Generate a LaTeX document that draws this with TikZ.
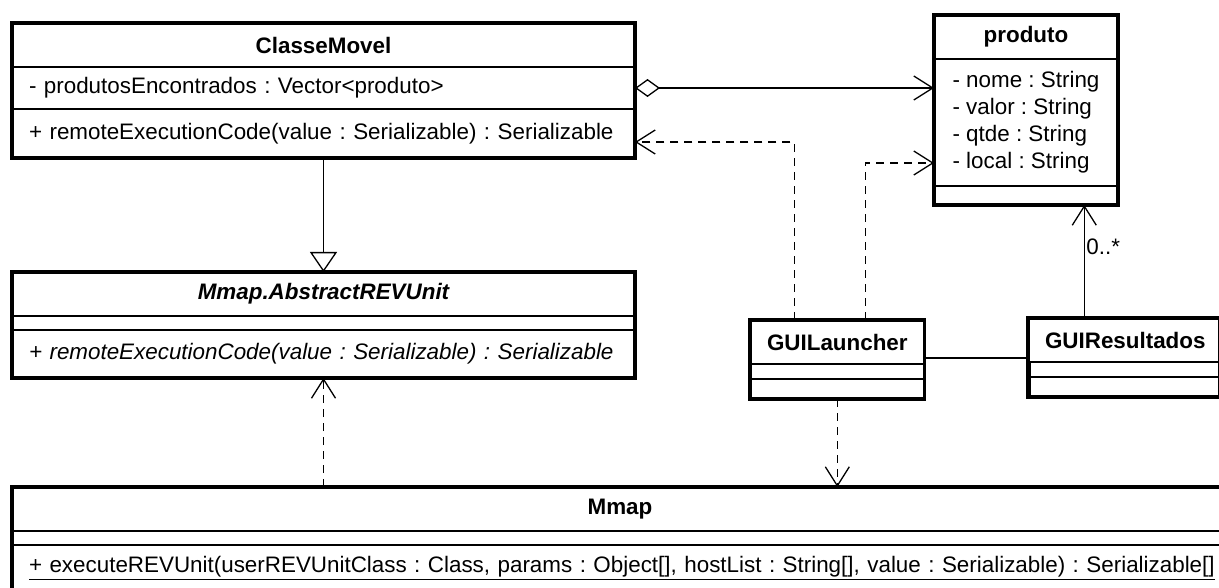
\documentclass[tikz,border=0pt]{standalone}
\usepackage{fontspec}
\setmainfont{Liberation Sans}
\usetikzlibrary{arrows.meta,positioning}
\newcommand{\tamanho}{\fontsize{22.4pt}{27pt}\selectfont\frenchspacing\hyphenpenalty=10000 }

\begin{document}
\begin{tikzpicture}[x=1pt,y=-1pt,
  node distance=0pt,
  classe/.style={
  % The shape:
  rectangle,
  % The border:
  draw, line width=1.4pt, outer sep=0pt,
  inner xsep=17pt, inner ysep=0pt,
  % Font
  font=\tamanho\bfseries
  },
  secao/.style={
  % The shape:
  rectangle,
  % The border:
  draw, line width=1.4pt, outer sep=0pt,
  inner xsep=17pt, inner ysep=0pt,
  align=left,
  % Font
  font=\tamanho
  },
  moldura/.style={line width=3.6pt},
  ligacao/.style={line width=1.3pt},
  navega/.style={-{Straight Barb[length=19pt,width=24pt]}},
  dependencia/.style={dash pattern=on 8pt off 6pt,-{Straight Barb[length=19pt,width=24pt]}},
  agrega/.style={{Diamond[open,length=25pt,width=18pt]}-{Straight Barb[length=19pt,width=24pt]}},
  heranca/.style={-{Triangle[open,length=20pt,width=27pt]}}
  ]
  \useasboundingbox (0,0) rectangle (1219,588);

  \node (cmT) [classe,anchor=north west,minimum width=623pt,minimum height=44pt] at (12,23) {ClasseMovel};
  \node (cmA) [secao,below=of cmT,text width=589pt,minimum height=42pt] {- produtosEncontrados : Vector<produto>};
  \node (cmM) [secao,below=of cmA,text width=589pt,minimum height=49pt] {+ remoteExecutionCode(value : Serializable) : Serializable};

  \node (prT) [classe,anchor=north west,minimum width=184pt,minimum height=44pt] at (934,15) {produto};
  \node (prA) [secao,below=of prT,minimum width=184pt,minimum height=127pt] {- nome : String\\- valor : String\\- qtde : String\\- local : String};
  \node (prB) [secao,below=of prA,minimum width=184pt,minimum height=19pt] {};

  \node (abT) [classe,anchor=north west,minimum width=623pt,minimum height=44pt,font=\tamanho\bfseries\itshape] at (12,272) {Mmap.AbstractREVUnit};
  \node (abA) [secao,below=of abT,minimum width=623pt,minimum height=14pt] {};
  \node (abM) [secao,below=of abA,text width=589pt,minimum height=48pt,font=\tamanho\itshape] {+ remoteExecutionCode(value : Serializable) : Serializable};

  \node (glT) [classe,anchor=north west,minimum width=174pt,minimum height=44pt] at (750,320) {GUILauncher};
  \node (glA) [secao,below=of glT,minimum width=174pt,minimum height=15pt] {};
  \node (glB) [secao,below=of glA,minimum width=174pt,minimum height=20pt] {};

  \node (grT) [classe,anchor=north west,minimum width=190pt,minimum height=44pt] at (1028,318) {GUIResultados};
  \node (grA) [secao,below=of grT,minimum width=190pt,minimum height=15pt] {};
  \node (grB) [secao,below=of grA,minimum width=190pt,minimum height=20pt] {};

  \node (mmT) [classe,anchor=north west,minimum width=1216pt,minimum height=44pt] at (12,487) {Mmap};
  \node (mmA) [secao,below=of mmT,minimum width=1216pt,minimum height=14pt] {};
  \node (mmM) [secao,below=of mmA,text width=1182pt,minimum height=46pt] {\underline{+ executeREVUnit(userREVUnitClass : Class, params : Object[], hostList : String[], value : Serializable) : Serializable[]}};

  % thick outlines
  \draw[moldura] (cmT.north west) rectangle (cmM.south east);
  \draw[moldura] (prT.north west) rectangle (prB.south east);
  \draw[moldura] (abT.north west) rectangle (abM.south east);
  \draw[moldura] (glT.north west) rectangle (glB.south east);
  \draw[moldura] (grT.north west) rectangle (grB.south east);
  \draw[moldura] (mmT.north west) rectangle (mmM.south east);

  \draw[ligacao,agrega] (cmA.east) to (cmA.east -| prA.west);
  \draw[ligacao,dependencia] ([xshift=-43pt]glT.north) |- ([yshift=-8.5pt]cmM.east);
  \draw[ligacao,dependencia] ([xshift=28pt]glT.north) |- ([yshift=-40.5pt]prA.west);
  \draw[ligacao,heranca] (cmM.south) to (abT.north);
  \draw[ligacao,dependencia] (mmT.north -| abM.south) to (abM.south);
  \draw[ligacao,dependencia] (glB.south) to (glB.south |- mmT.north);
  \draw[ligacao] ([yshift=-16pt]glT.east) to ([yshift=-16pt]glT.east -| grT.west);
  \draw[ligacao,navega] ([xshift=-41pt]grT.north) to node[right,pos=0.63,inner sep=1.5pt,font=\tamanho] {0..*} ([xshift=-41pt]grT.north |- prB.south);
\end{tikzpicture}
\end{document}
